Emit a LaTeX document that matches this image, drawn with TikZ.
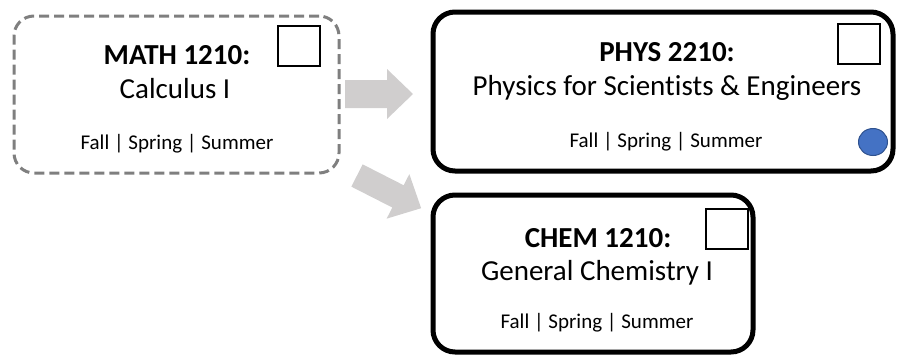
\documentclass[tikz,border=0pt]{standalone}
\usepackage{fontspec}
\setmainfont[Ligatures={NoCommon}]{Carlito}
\usetikzlibrary{shapes.geometric}
\definecolor{dashgray}{RGB}{127,127,127}
\definecolor{arrowgray}{RGB}{208,206,206}
\definecolor{dotblue}{RGB}{68,114,196}
\definecolor{dotedge}{RGB}{47,82,143}
\tikzset{
  coursebox/.style={draw=black, line width=5pt, rounded corners=22pt, inner sep=0pt},
  optbox/.style={draw=dashgray, line width=3pt, dash pattern=on 10pt off 5pt, rounded corners=20pt, inner sep=0pt},
  checkbox/.style={draw=black, line width=2pt, inner sep=0pt, minimum width=42pt, minimum height=40pt},
  title/.style={anchor=base, inner sep=0pt, font=\fontsize{29}{34}\selectfont\bfseries},
  cname/.style={anchor=base, inner sep=0pt, font=\fontsize{29}{34}\selectfont},
  terms/.style={anchor=base, inner sep=0pt, font=\fontsize{21}{25}\selectfont},
  blockarrow/.style={fill=arrowgray, draw=none}
}
\begin{document}
\begin{tikzpicture}[x=1pt, y=-1pt]
\useasboundingbox (0,0) rectangle (898,360);

% MATH box (optional, dashed)
\node[optbox, minimum width=325pt, minimum height=157pt] (math) at (176.5,94.5) {};
\node[title] (mathT) at (177,64) {MATH 1210:};
\node[cname] (mathN) at (175,98.5) {Calculus I};
\node[terms] (mathS) at (177,149) {Fall | Spring | Summer};
\node[checkbox] (mathC) at (299,46) {};

% PHYS box
\node[coursebox, minimum width=460pt, minimum height=159pt] (phys) at (663,91.5) {};
\node[title] (physT) at (667,61) {PHYS 2210:};
\node[cname] (physN) at (667,95) {Physics for Scientists \& Engineers};
\node[terms] (physS) at (666,147) {Fall | Spring | Summer};
\node[checkbox] (physC) at (859,44) {};
\node[ellipse, draw=dotedge, fill=dotblue, line width=1pt, minimum width=29pt, minimum height=27pt, inner sep=0pt] (physD) at (873,142) {};

% CHEM box
\node[coursebox, minimum width=320pt, minimum height=157pt] (chem) at (593,273.5) {};
\node[title] (chemT) at (598,247) {CHEM 1210:};
\node[cname] (chemN) at (597,280) {General Chemistry I};
\node[terms] (chemS) at (597,328) {Fall | Spring | Summer};
\node[checkbox] (chemC) at (726.5,229) {};

% block arrows
\fill[blockarrow] (345,80) -- (387,80) -- (387,69) -- (413,94) -- (387,119) -- (387,108) -- (345,108) -- cycle;
\begin{scope}[shift={(357,175.5)}, rotate=-27]
\fill[blockarrow] (0,-12.5) -- (46,-12.5) -- (46,-25) -- (72,0) -- (46,25) -- (46,12.5) -- (0,12.5) -- cycle;
\end{scope}
\end{tikzpicture}
\end{document}
